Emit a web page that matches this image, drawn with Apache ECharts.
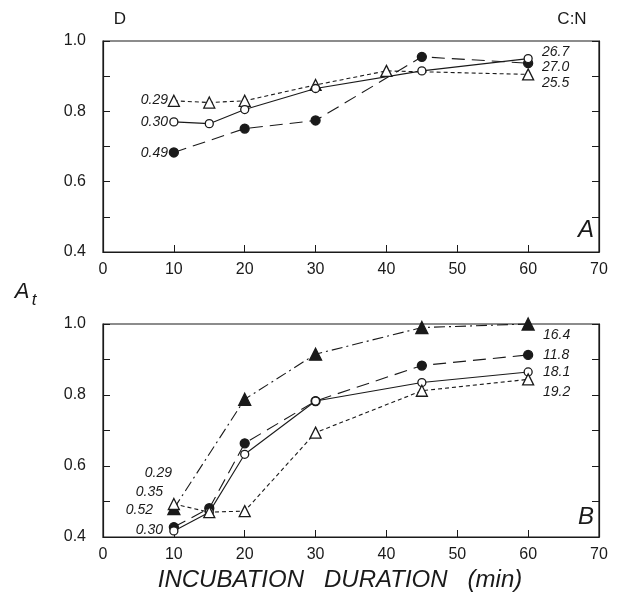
<!DOCTYPE html>
<html><head><meta charset="utf-8">
<script src="https://cdn.jsdelivr.net/npm/echarts@6/dist/echarts.min.js"></script>
<style>html,body{margin:0;padding:0;background:#fff}#c{width:625px;height:600px}</style>
</head><body><div id="c"></div>
<script>
// ---- data ----
const xTicks = [0,10,20,30,40,50,60,70];
const yTickLabels = ['0.4','0.6','0.8','1.0'];
// Panel A
const aOpenTriX = [10,15,20,30,40,60];
const aOpenTriY = [0.83,0.825,0.83,0.875,0.915,0.905];
const aOpenCircX = [10,15,20,30,45,60];
const aOpenCircY = [0.77,0.765,0.805,0.865,0.915,0.95];
const aFillCircX = [10,20,30,45,60];
const aFillCircY = [0.683,0.751,0.774,0.955,0.937];
const aLeftLabels = ['0.29','0.30','0.49'];
const aRightLabels = ['26.7','27.0','25.5'];
// Panel B
const bFillTriX = [10,20,30,45,60];
const bFillTriY = [0.48,0.788,0.915,0.99,1.0];
const bFillCircX = [10,15,20,30,45,60];
const bFillCircY = [0.428,0.481,0.664,0.783,0.883,0.913];
const bOpenCircX = [10,15,20,30,45,60];
const bOpenCircY = [0.417,0.47,0.633,0.783,0.835,0.865];
const bOpenTriX = [10,15,20,30,45,60];
const bOpenTriY = [0.493,0.47,0.473,0.694,0.812,0.844];
const bLeftLabels = ['0.29','0.35','0.52','0.30'];
const bRightLabels = ['16.4','11.8','18.1','19.2'];

const zip = (xs, ys) => xs.map((x, i) => [x, ys[i]]);
const K = '#1a1a1a';
const FONT = 'Liberation Sans';

function xAxis(gi){
  return {type:'value', gridIndex:gi, min:0, max:70, interval:10,
    axisLine:{show:true,lineStyle:{color:K,width:1.2}},
    axisTick:{show:true,inside:true,length:7,lineStyle:{color:K}},
    axisLabel:{show:true,color:K,fontSize:16,fontFamily:FONT,margin:10},
    splitLine:{show:false}};
}
function yAxis(gi, pos){
  return {type:'value', gridIndex:gi, min:0.4, max:1.0, interval:0.1, position:pos,
    axisLine:{show:true,lineStyle:{color:K,width:1.2}},
    axisTick:{show:true,inside:true,length:7,lineStyle:{color:K}},
    axisLabel:{show:pos==='left',color:K,fontSize:16,fontFamily:FONT,margin:17,
      formatter:v=>{const s=v.toFixed(1);return yTickLabels.includes(s)?s:'';}},
    splitLine:{show:false}};
}
function ser(gi, data, symbol, filled, dash, size){
  return {type:'line', xAxisIndex:gi, yAxisIndex:gi*2, data, symbol, symbolSize:size,
    showAllSymbol:true, clip:false, animation:false,
    lineStyle:{color:K,width:1.1,type:dash},
    itemStyle:{color:filled?K:'#fff',borderColor:K,borderWidth:1.3}, z:filled?3:4};
}
const solid='solid', longDash=[13,7], shortDash=[4,3], dashDot=[11,4,2,4];

const graphics = [];
const lab = (x,y,t,align,size,italic)=>({type:'text',x,y,style:{text:t,fill:K,fontFamily:FONT,fontSize:size,fontStyle:italic?'italic':'normal',align,verticalAlign:'middle'}});
const aLY=[100,122,153];
aLeftLabels.forEach((t,i)=>graphics.push(lab(168,aLY[i],t,'right',14,true)));
const aRY=[52,67,83];
aRightLabels.forEach((t,i)=>graphics.push(lab(542,aRY[i],t,'left',14,true)));
const bLX=[172,163,153,163], bLY=[473,492,510,530];
bLeftLabels.forEach((t,i)=>graphics.push(lab(bLX[i],bLY[i],t,'right',14,true)));
const bRY=[335,355,372,392];
bRightLabels.forEach((t,i)=>graphics.push(lab(543,bRY[i],t,'left',14,true)));
graphics.push(lab(586,230,'A','center',24,true));
graphics.push(lab(586,517,'B','center',24,true));
graphics.push(lab(120,19,'D','center',17,false));
graphics.push(lab(572,19,'C:N','center',17,false));
graphics.push(lab(22,292,'A','center',22,true));
graphics.push(lab(34,300,'t','center',17,true));
graphics.push(lab(340,580,'INCUBATION   DURATION   (min)','center',24,true));

const option = {
  backgroundColor:'#fff', animation:false,
  grid:[
    {left:103, top:41, width:496, height:211, show:true, borderColor:K, borderWidth:1.2, backgroundColor:'transparent'},
    {left:103, top:324, width:496, height:213, show:true, borderColor:K, borderWidth:1.2, backgroundColor:'transparent'}
  ],
  xAxis:[xAxis(0), xAxis(1)],
  yAxis:[yAxis(0,'left'), yAxis(0,'right'), yAxis(1,'left'), yAxis(1,'right')],
  series:[
    ser(0, zip(aOpenTriX,aOpenTriY),'triangle',false,shortDash,11),
    ser(0, zip(aOpenCircX,aOpenCircY),'circle',false,solid,8),
    ser(0, zip(aFillCircX,aFillCircY),'circle',true,longDash,9),
    ser(1, zip(bFillTriX,bFillTriY),'triangle',true,dashDot,12),
    ser(1, zip(bFillCircX,bFillCircY),'circle',true,longDash,9),
    ser(1, zip(bOpenCircX,bOpenCircY),'circle',false,solid,8),
    ser(1, zip(bOpenTriX,bOpenTriY),'triangle',false,shortDash,11)
  ],
  graphic:graphics
};
const ch = echarts.init(document.getElementById('c'), null, {renderer:'canvas'});
ch.setOption(option);
</script></body></html>
